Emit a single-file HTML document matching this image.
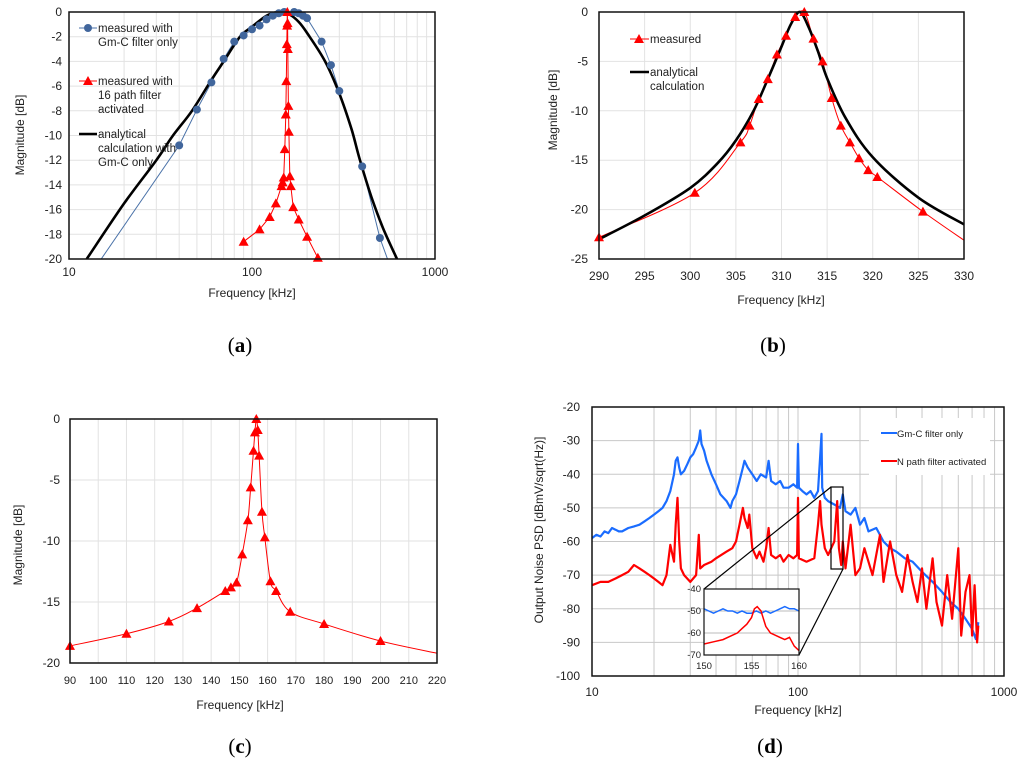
<!DOCTYPE html>
<html><head><meta charset="utf-8"><style>
body{margin:0;background:#fff}
svg{display:block;font-family:"Liberation Sans",Arial,sans-serif}
</style></head><body>
<svg id="fig" width="1024" height="772" viewBox="0 0 1024 772" xmlns="http://www.w3.org/2000/svg"></svg>
<script>
// ---------- DATA ----------
// Panel (a)
const aBlueF=[15,40,50,60,70,80,90,100,110,120,130,140,150,170,180,190,200,240,270,300,400,500,550];
const aBlueV=[-20,-10.8,-7.9,-5.7,-3.8,-2.4,-1.9,-1.4,-1.1,-0.6,-0.3,-0.1,0,0,-0.1,-0.3,-0.5,-2.4,-4.3,-6.4,-12.5,-18.3,-20];
const aBlackF=[12.5,20,30,37,47,60,70,86,100,120,140,160,180,200,251,300,350,389,450,520,620];
const aBlackV=[-20,-15.5,-12,-10,-8,-5.5,-4,-2,-1.2,-0.3,0,-0.2,-0.8,-1.7,-4,-6.6,-9.5,-12,-15,-17.5,-20];
const aRedF=[90,110,125,135,145,147,149,151,153,154,155,155.5,156,156.5,157,158,159,161,163,168,180,200,229];
const aRedV=[-18.6,-17.6,-16.6,-15.5,-14.1,-13.8,-13.4,-11.1,-8.3,-5.6,-2.6,-1.1,0,-0.9,-3.0,-7.6,-9.7,-13.3,-14.1,-15.8,-16.8,-18.2,-19.9];
// Panel (b)
const bRedF=[290,300.5,305.5,306.5,307.5,308.5,309.5,310.5,311.5,312.5,313.5,314.5,315.5,316.5,317.5,318.5,319.5,320.5,325.5];
const bRedV=[-22.8,-18.3,-13.2,-11.5,-8.8,-6.8,-4.3,-2.4,-0.5,0,-2.7,-5,-8.7,-11.5,-13.2,-14.8,-16,-16.7,-20.2];
const bRedEndF=330, bRedEndV=-23.1;
const bBlackF=[290,295,300,303,305,307,309,310,311,312,313,314,315,317,320,325,330];
const bBlackV=[-23,-20.6,-17.8,-15.3,-13,-9.9,-5.7,-3.5,-1.3,0,-1.6,-4,-6.7,-10.7,-14.7,-18.8,-21.5];
// Panel (c)
const cRedF=[90,110,125,135,145,147,149,151,153,154,155,155.5,156,156.5,157,158,159,161,163,168,180,200];
const cRedV=[-18.6,-17.6,-16.6,-15.5,-14.1,-13.8,-13.4,-11.1,-8.3,-5.6,-2.6,-1.1,0,-0.9,-3.0,-7.6,-9.7,-13.3,-14.1,-15.8,-16.8,-18.2];
const cRedEndF=220, cRedEndV=-19.2;
// Panel (d)
const dBlueF=[10,10.5,11,11.5,12,12.5,13,13.5,14,15,16,17,18,19,20,21,22,23,24,25,25.5,26,26.5,27,28,29,30,31,32,33,33.5,34,35,36,38,40,42,45,47,48,50,52,54,55,57,60,63,66,70,72,74,78,82,85,90,95,99,100,101,105,110,115,120,125,128,130,131,135,140,150,160,165,170,180,190,200,210,220,240,260,280,300,330,360,400,450,500,550,600,650,700,730,750];
const dBlueV=[-59,-58,-58.5,-57,-57.5,-56,-56.5,-57,-57,-56,-55.5,-55,-54,-53,-52,-51,-50,-48,-45,-40,-36,-35,-38,-40,-39,-37,-35,-34,-32,-30,-27,-31,-33,-36,-40,-43,-46,-48,-50,-48,-46,-42,-38,-36,-38,-40,-42,-40,-41,-36,-42,-43,-42,-44,-44,-43,-44,-31,-44,-45,-46,-45,-47,-45,-35,-28,-44,-47,-48,-49,-50,-46,-51,-52,-50,-55,-53,-57,-56,-60,-62,-63,-65,-66,-69,-72,-75,-78,-80,-83,-86,-89,-84];
const dRedF=[10,11,12,13,14,15,16,17,18,19,20,21,22,23,24,25,25.5,26,26.5,27,28,30,32,33,33.5,35,38,40,45,48,50,52,54,55,57,58,60,63,65,68,70,72,74,78,82,85,90,95,99,100,101,110,120,125,128,130,135,140,145,150,155,158,162,165,170,180,190,200,210,230,250,260,280,300,320,340,360,380,400,420,450,470,500,530,560,600,620,650,680,700,720,740,750];
const dRedV=[-73,-72,-72,-71,-70,-69,-67,-68,-69,-70,-71,-72,-73,-70,-61,-66,-55,-47,-60,-68,-70,-72,-70,-58,-68,-67,-66,-65,-63,-62,-60,-55,-50,-53,-56,-52,-62,-65,-63,-66,-62,-56,-64,-65,-64,-66,-64,-65,-64,-47,-65,-66,-65,-55,-48,-55,-62,-64,-62,-60,-48,-62,-67,-60,-68,-55,-70,-68,-62,-70,-58,-72,-60,-70,-75,-64,-72,-78,-68,-80,-65,-78,-85,-70,-83,-62,-88,-75,-70,-88,-73,-90,-85];
const insBlueF=[150,150.5,151,151.5,152,152.5,153,153.5,154,154.5,155,155.5,156,156.5,157,157.5,158,158.5,159,159.5,160];
const insBlueV=[-49,-50,-51,-50,-49,-50,-50,-51,-50,-51,-51,-50,-51,-50,-51,-50,-49,-48,-49,-49,-50];
const insRedF=[150,151,152,153,153.5,154,154.5,155,155.3,155.6,156,156.5,157,158,158.5,159,159.5,160];
const insRedV=[-65,-64,-63,-61,-60,-58,-56,-53,-49,-48,-50,-57,-60,-62,-63,-62,-66,-68];
// tick labels
const aYTicks=[0,-2,-4,-6,-8,-10,-12,-14,-16,-18,-20];
const aXTicks=[10,100,1000];
const bYTicks=[0,-5,-10,-15,-20,-25];
const bXTicks=[290,295,300,305,310,315,320,325,330];
const cYTicks=[0,-5,-10,-15,-20];
const cXTicks=[90,100,110,120,130,140,150,160,170,180,190,200,210,220];
const dYTicks=[-20,-30,-40,-50,-60,-70,-80,-90,-100];
const dXTicks=[10,100,1000];
const insYTicks=[-40,-50,-60,-70];
const insXTicks=[150,155,160];

// ---------- helpers ----------
const NS="http://www.w3.org/2000/svg";
const svg=document.getElementById('fig');
function mk(tag,attrs,parent){const e=document.createElementNS(NS,tag);for(const k in attrs)e.setAttribute(k,attrs[k]);(parent||svg).appendChild(e);return e;}
function lin(d0,d1,p0,p1){return v=>p0+(v-d0)/(d1-d0)*(p1-p0);}
function lg(d0,d1,p0,p1){return v=>p0+(Math.log10(v)-Math.log10(d0))/(Math.log10(d1)-Math.log10(d0))*(p1-p0);}
function pathFrom(F,V,sx,sy,smooth){
  const p=F.map((f,i)=>[sx(f),sy(V[i])]);
  let d='M'+p[0][0].toFixed(1)+','+p[0][1].toFixed(1);
  for(let i=1;i<p.length;i++){
    if(smooth){const p0=p[Math.max(0,i-2)],p1=p[i-1],p2=p[i],p3=p[Math.min(p.length-1,i+1)];
      const c1=[p1[0]+(p2[0]-p0[0])/6,p1[1]+(p2[1]-p0[1])/6],c2=[p2[0]-(p3[0]-p1[0])/6,p2[1]-(p3[1]-p1[1])/6];
      d+='C'+c1.map(v=>v.toFixed(1))+' '+c2.map(v=>v.toFixed(1))+' '+p2.map(v=>v.toFixed(1));}
    else d+='L'+p[i][0].toFixed(1)+','+p[i][1].toFixed(1);
  }
  return d;
}
function text(x,y,s,o,parent){const t=mk('text',Object.assign({x:x,y:y,'font-size':12,fill:'#222'},o||{}),parent);t.textContent=s;return t;}
function tri(g,x,y){return mk('polygon',{points:`${x},${y-5} ${x-5},${y+4} ${x+5},${y+4}`,fill:'#ff0000'},g);}

// ---------- Panel (a) ----------
{
const g=mk('g',{});


const L=69,R=435,T=12,B=259;
const sx=lg(10,1000,L,R), sy=lin(0,-20,T,B);
for(const dec of [10,100])for(let m=2;m<=9;m++){const x=sx(dec*m);mk('line',{x1:x,x2:x,y1:T,y2:B,stroke:'#e2e2e2'},g);}
aYTicks.forEach(v=>{mk('line',{x1:L,x2:R,y1:sy(v),y2:sy(v),stroke:'#e2e2e2'},g);
  const t=text(62,sy(v)+4,String(v),{'text-anchor':'end','font-size':12},g);});
mk('line',{x1:sx(100),x2:sx(100),y1:T,y2:B,stroke:'#d0d0d0'},g);
aXTicks.forEach(v=>{const t=text(sx(v),276,String(v),{'text-anchor':'middle'},g);});
const cp=mk('clipPath',{id:'ca'},g);mk('rect',{x:L,y:T-6,width:R-L,height:B-T+6},cp);
const pg=mk('g',{'clip-path':'url(#ca)'},g);
const bl=mk('path',{d:pathFrom(aBlueF,aBlueV,sx,sy,false),fill:'none',stroke:'#4a72a8','stroke-width':1},pg);

const bk=mk('path',{d:pathFrom(aBlackF,aBlackV,sx,sy,true),fill:'none',stroke:'#000','stroke-width':2.6},pg);

const rl=mk('path',{d:pathFrom(aRedF,aRedV,sx,sy,false),fill:'none',stroke:'#ff0000','stroke-width':1},pg);

aBlueF.forEach((f,i)=>{if(i===0||i===aBlueF.length-1)return;const c=mk('circle',{cx:sx(f),cy:sy(aBlueV[i]),r:4,fill:'#41669c'},g);});
aRedF.forEach((f,i)=>{const t=tri(g,sx(f),sy(aRedV[i]));});
mk('rect',{x:L,y:T,width:R-L,height:B-T,fill:'none',stroke:'#111','stroke-width':1.5},g);
const lg1=mk('g',{},g);
mk('line',{x1:79,x2:97,y1:28,y2:28,stroke:'#4a72a8'},lg1);mk('circle',{cx:88,cy:28,r:4,fill:'#41669c'},lg1);
text(98,32,'measured with',{'font-size':11.5},lg1);text(98,46,'Gm-C filter only',{'font-size':11.5},lg1);
mk('line',{x1:79,x2:97,y1:81,y2:81,stroke:'#ff0000'},lg1);tri(lg1,88,81);
text(98,85,'measured with',{'font-size':11.5},lg1);text(98,99,'16 path filter',{'font-size':11.5},lg1);text(98,113,'activated',{'font-size':11.5},lg1);
mk('line',{x1:79,x2:97,y1:134,y2:134,stroke:'#000','stroke-width':2.6},lg1);
text(98,138,'analytical',{'font-size':11.5},lg1);text(98,152,'calculation with',{'font-size':11.5},lg1);text(98,166,'Gm-C only',{'font-size':11.5},lg1);
const xt=text(252,297,'Frequency [kHz]',{'text-anchor':'middle'},g);
const yt=text(24,135,'Magnitude [dB]',{'text-anchor':'middle',transform:'rotate(-90 24 135)'},g);
}

// ---------- Panel (b) ----------
{
const g=mk('g',{});


const L=599,R=964,T=12,B=259;
const sx=lin(290,330,L,R), sy=lin(0,-25,T,B);
bXTicks.forEach(v=>{mk('line',{x1:sx(v),x2:sx(v),y1:T,y2:B,stroke:'#e2e2e2'},g);
  const t=text(sx(v),280,String(v),{'text-anchor':'middle'},g);});
bYTicks.forEach(v=>{mk('line',{x1:L,x2:R,y1:sy(v),y2:sy(v),stroke:'#e2e2e2'},g);
  const t=text(588,sy(v)+4,String(v),{'text-anchor':'end'},g);});
const rl=mk('path',{d:pathFrom(bRedF.concat([bRedEndF]),bRedV.concat([bRedEndV]),sx,sy,true),fill:'none',stroke:'#ff0000','stroke-width':1},g);

const bk=mk('path',{d:pathFrom(bBlackF,bBlackV,sx,sy,true),fill:'none',stroke:'#000','stroke-width':2.6},g);

bRedF.forEach((f,i)=>{const t=tri(g,sx(f),sy(bRedV[i]));});
mk('rect',{x:L,y:T,width:R-L,height:B-T,fill:'none',stroke:'#111','stroke-width':1.5},g);
const lgb=mk('g',{},g);
mk('line',{x1:630,x2:649,y1:39,y2:39,stroke:'#ff0000'},lgb);tri(lgb,639,39);
text(650,43,'measured',{'font-size':11.5},lgb);
mk('line',{x1:630,x2:649,y1:72,y2:72,stroke:'#000','stroke-width':2.6},lgb);
text(650,76,'analytical',{'font-size':11.5},lgb);text(650,90,'calculation',{'font-size':11.5},lgb);
const xt=text(781,304,'Frequency [kHz]',{'text-anchor':'middle'},g);
const yt=text(557,110,'Magnitude [dB]',{'text-anchor':'middle',transform:'rotate(-90 557 110)'},g);
}

// ---------- Panel (c) ----------
{
const g=mk('g',{});


const L=70,R=437,T=419,B=663;
const sx=lin(90,220,L,R), sy=lin(0,-20,T,B);
cXTicks.forEach(v=>{mk('line',{x1:sx(v),x2:sx(v),y1:T,y2:B,stroke:'#e2e2e2'},g);
  const t=text(sx(v),684,String(v),{'text-anchor':'middle','font-size':11},g);});
cYTicks.forEach(v=>{mk('line',{x1:L,x2:R,y1:sy(v),y2:sy(v),stroke:'#e2e2e2'},g);
  const t=text(60,sy(v)+4,String(v),{'text-anchor':'end'},g);});
const rl=mk('path',{d:pathFrom(cRedF.concat([cRedEndF]),cRedV.concat([cRedEndV]),sx,sy,true),fill:'none',stroke:'#ff0000','stroke-width':1},g);

cRedF.forEach((f,i)=>{const t=tri(g,sx(f),sy(cRedV[i]));});
mk('rect',{x:L,y:T,width:R-L,height:B-T,fill:'none',stroke:'#111','stroke-width':1.5},g);
const xt=text(240,709,'Frequency [kHz]',{'text-anchor':'middle'},g);
const yt=text(22,545,'Magnitude [dB]',{'text-anchor':'middle',transform:'rotate(-90 22 545)'},g);
}

// ---------- Panel (d) ----------
{
const g=mk('g',{});


const L=592,R=1004,T=407,B=676;
const sx=lg(10,1000,L,R), sy=lin(-20,-100,T,B);
for(const dec of [10,100])for(let m=2;m<=9;m++){const x=sx(dec*m);mk('line',{x1:x,x2:x,y1:T,y2:B,stroke:'#c8c8c8'},g);}
mk('line',{x1:sx(100),x2:sx(100),y1:T,y2:B,stroke:'#c8c8c8'},g);
dYTicks.forEach(v=>{mk('line',{x1:L,x2:R,y1:sy(v),y2:sy(v),stroke:'#c8c8c8'},g);
  const t=text(580,sy(v)+4,String(v),{'text-anchor':'end'},g);});
dXTicks.forEach(v=>{const t=text(sx(v),696,String(v),{'text-anchor':'middle'},g);});
mk('rect',{x:869,y:418,width:121,height:57,fill:'#fff'},g);
const bl=mk('path',{d:pathFrom(dBlueF,dBlueV,sx,sy,false),fill:'none',stroke:'#1a6cff','stroke-width':2.2,'stroke-linejoin':'round'},g);

const rl=mk('path',{d:pathFrom(dRedF,dRedV,sx,sy,false),fill:'none',stroke:'#ff0000','stroke-width':2.2,'stroke-linejoin':'round'},g);

mk('rect',{x:L,y:T,width:R-L,height:B-T,fill:'none',stroke:'#111','stroke-width':1.5},g);
const zb=mk('rect',{x:831,y:487,width:12,height:82,fill:'none',stroke:'#000','stroke-width':1.2},g);

mk('line',{x1:831,y1:487,x2:704,y2:589,stroke:'#000','stroke-width':1.2},g);
mk('line',{x1:843,y1:569,x2:799,y2:655,stroke:'#000','stroke-width':1.2},g);
const ig=mk('g',{},g);
const iL=704,iR=799,iT=589,iB=655;
const ix=lin(150,160,iL,iR), iy=lin(-40,-70,iT,iB);
mk('rect',{x:iL,y:iT,width:iR-iL,height:iB-iT,fill:'#fff'},ig);
insYTicks.forEach(v=>{mk('line',{x1:iL,x2:iR,y1:iy(v),y2:iy(v),stroke:'#bbb'},ig);
  const t=text(iL-3,iy(v)+3,String(v),{'text-anchor':'end','font-size':9.5},ig);});
insXTicks.forEach(v=>{const t=text(ix(v),669,String(v),{'text-anchor':'middle','font-size':9.5},ig);});
mk('path',{d:pathFrom(insBlueF,insBlueV,ix,iy,false),fill:'none',stroke:'#1a6cff','stroke-width':1.5},ig);
mk('path',{d:pathFrom(insRedF,insRedV,ix,iy,false),fill:'none',stroke:'#ff0000','stroke-width':1.5},ig);
mk('rect',{x:iL,y:iT,width:iR-iL,height:iB-iT,fill:'none',stroke:'#111','stroke-width':1.2},ig);
const lgd=mk('g',{},g);
mk('line',{x1:881,x2:897,y1:433,y2:433,stroke:'#1a6cff','stroke-width':2},lgd);
text(897,437,'Gm-C filter only',{'font-size':9.5},lgd);
mk('line',{x1:881,x2:897,y1:461,y2:461,stroke:'#ff0000','stroke-width':2},lgd);
text(897,465,'N path filter activated',{'font-size':9.5},lgd);
const xt=text(798,714,'Frequency [kHz]',{'text-anchor':'middle'},g);
const yt=text(543,530,'Output Noise PSD [dBmV/sqrt(Hz)]',{'text-anchor':'middle',transform:'rotate(-90 543 530)'},g);
}

// ---------- captions ----------
[['(a)','a',240,352],['(b)','b',773,352],['(c)','c',240,753],['(d)','d',770,753]].forEach(c=>{
  const t=mk('text',{x:c[2],y:c[3],'font-size':21,'text-anchor':'middle','font-family':'"Liberation Serif",serif',fill:'#000'});
  
  
  t.appendChild(document.createTextNode('('));
  const b=mk('tspan',{'font-weight':'bold'},t);b.textContent=c[1];
  t.appendChild(document.createTextNode(')'));
});
</script>
</body></html>
